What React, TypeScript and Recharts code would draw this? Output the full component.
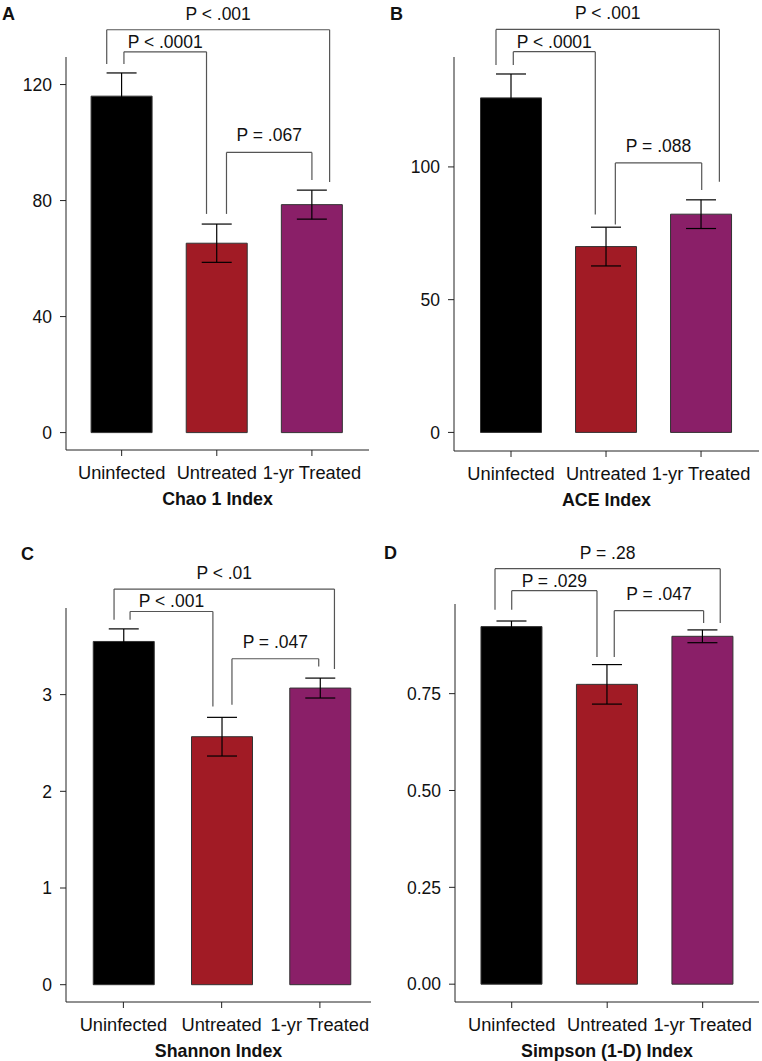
import React from 'react';
import { BarChart, Bar, XAxis, YAxis, ErrorBar, ReferenceLine, Cell } from 'recharts';

const FONT = '"Liberation Sans", Arial, Helvetica, sans-serif';

// groups and colours
const groups = ['Uninfected', 'Untreated', '1-yr Treated'];
const barColors = ['#000000', '#A11B25', '#8A1F68'];

// means and standard errors
const chaoMeans = [116, 65.3, 78.6];
const chaoErrors = [8, 6.6, 5];
const aceMeans = [126, 70, 82.2];
const aceErrors = [9, 7.3, 5.4];
const shannonMeans = [3.55, 2.565, 3.068];
const shannonErrors = [0.13, 0.2, 0.103];
const simpsonMeans = [0.923, 0.774, 0.898];
const simpsonErrors = [0.0145, 0.051, 0.0165];

// y ticks
const chaoTicks = [0, 40, 80, 120];
const aceTicks = [0, 50, 100];
const shannonTicks = [0, 1, 2, 3];
const simpsonTicks = [0, 0.25, 0.5, 0.75];

// significance brackets: [label, left x, right x, top, left leg end, right leg end]
type Bracket = [string, number, number, number, number, number];
const chaoBrackets: Bracket[] = [
  ['P < .001', -0.157, 2.186, 138.9, 127.1, 86.4],
  ['P < .0001', 0.024, 0.892, 131.3, 127.1, 75.4],
  ['P = .067', 1.102, 2.0, 96.6, 75.4, 87.1],
];
const aceBrackets: Bracket[] = [
  ['P < .001', -0.158, 2.193, 151.8, 138.4, 94.4],
  ['P < .0001', 0.024, 0.887, 143.4, 138.4, 82.1],
  ['P = .088', 1.098, 2.007, 101.5, 78.3, 91.3],
];
const shannonBrackets: Bracket[] = [
  ['P < .01', -0.095, 2.148, 4.092, 3.775, 3.265],
  ['P < .001', 0.068, 0.911, 3.86, 3.775, 2.878],
  ['P = .047', 1.105, 1.988, 3.371, 2.896, 3.292],
];
const simpsonBrackets: Bracket[] = [
  ['P = .28', -0.175, 2.184, 1.0725, 0.9667, 0.9324],
  ['P = .029', 0.0, 0.893, 1.0157, 0.9667, 0.8446],
  ['P = .047', 1.074, 2.01, 0.9641, 0.8446, 0.9324],
];
// distance between bracket and its label (px)
const labelGaps = [10, 4, 11];

const textStyle = { fill: '#111', fontSize: 17.5, fontFamily: FONT };

interface PanelProps {
  means: number[];
  errors: number[];
  yDomain: [number, number];
  yTicks: number[];
  tickFmt?: (v: number) => string;
  xDomain: [number, number];
  brackets: Bracket[];
  title: string;
  margin: { top: number; right: number; bottom: number; left: number };
  left: number;
  top: number;
  width: number;
  height: number;
}

const Panel = ({ means, errors, yDomain, yTicks, tickFmt, xDomain, brackets, title, margin, left, top, width, height }: PanelProps) => {
  const data = groups.map((g, i) => ({ x: i, name: g, value: means[i], err: errors[i] }));
  const lineProps = { stroke: '#555', strokeWidth: 1.2, ifOverflow: 'visible' as const };
  return (
    <div style={{ position: 'absolute', left, top }}>
      <BarChart width={width} height={height} data={data} margin={margin}>
        <XAxis
          type="number"
          dataKey="x"
          domain={xDomain}
          allowDataOverflow
          ticks={[0, 1, 2]}
          interval={0}
          tickFormatter={(v: number) => groups[v]}
          tickSize={6}
          tickMargin={10}
          height={30}
          stroke="#222"
          tick={{ ...textStyle, fontSize: 18.3 }}
          label={{ value: title, position: 'bottom', offset: 12, ...textStyle, fontSize: 17.8, fontWeight: 'bold' }}
        />
        <YAxis
          type="number"
          domain={yDomain}
          allowDataOverflow
          ticks={yTicks}
          interval={0}
          tickFormatter={tickFmt}
          width={60}
          tickSize={6}
          tickMargin={8}
          stroke="#222"
          tick={textStyle}
        />
        <Bar dataKey="value" barSize={61} stroke="#333" strokeWidth={1} isAnimationActive={false}>
          {data.map((d, i) => (
            <Cell key={d.name} fill={barColors[i]} />
          ))}
          <ErrorBar dataKey="err" width={15} stroke="#000" strokeWidth={1.2} direction="y" isAnimationActive={false} />
        </Bar>
        {brackets.flatMap(([label, x1, x2, yTop, yL, yR], i) => [
          <ReferenceLine key={`l${i}`} segment={[{ x: x1, y: yL }, { x: x1, y: yTop }]} {...lineProps} />,
          <ReferenceLine key={`r${i}`} segment={[{ x: x2, y: yR }, { x: x2, y: yTop }]} {...lineProps} />,
          <ReferenceLine
            key={`t${i}`}
            segment={[{ x: x1, y: yTop }, { x: x2, y: yTop }]}
            {...lineProps}
            label={{ value: label, position: 'top', offset: labelGaps[i], ...textStyle }}
          />,
        ])}
      </BarChart>
    </div>
  );
};

const letterStyle: React.CSSProperties = {
  position: 'absolute',
  fontFamily: FONT,
  fontWeight: 'bold',
  fontSize: 18,
  lineHeight: '18px',
  color: '#111',
};

export default function App() {
  return (
    <div style={{ position: 'absolute', left: 0, top: 0, width: 762, height: 1061, background: '#fff' }}>
      <Panel
        means={chaoMeans}
        errors={chaoErrors}
        yDomain={[-6, 129.5]}
        yTicks={chaoTicks}
        xDomain={[-0.585, 2.6]}
        brackets={chaoBrackets}
        title="Chao 1 Index"
        margin={{ top: 57, right: 12, bottom: 50, left: 6 }}
        left={0}
        top={0}
        width={381}
        height={530}
      />
      <Panel
        means={aceMeans}
        errors={aceErrors}
        yDomain={[-7, 141.4]}
        yTicks={aceTicks}
        xDomain={[-0.6, 2.61]}
        brackets={aceBrackets}
        title="ACE Index"
        margin={{ top: 57, right: 3, bottom: 49, left: 13 }}
        left={381}
        top={0}
        width={381}
        height={530}
      />
      <Panel
        means={shannonMeans}
        errors={shannonErrors}
        yDomain={[-0.179, 3.896]}
        yTicks={shannonTicks}
        xDomain={[-0.584, 2.52]}
        brackets={shannonBrackets}
        title="Shannon Index"
        margin={{ top: 78, right: 10, bottom: 29, left: 6 }}
        left={0}
        top={530}
        width={381}
        height={531}
      />
      <Panel
        means={simpsonMeans}
        errors={simpsonErrors}
        yDomain={[-0.046, 0.9814]}
        yTicks={simpsonTicks}
        tickFmt={(v: number) => v.toFixed(2)}
        xDomain={[-0.594, 2.59]}
        brackets={simpsonBrackets}
        title="Simpson (1-D) Index"
        margin={{ top: 74, right: 3, bottom: 29, left: 14 }}
        left={381}
        top={530}
        width={381}
        height={531}
      />
      <div style={{ ...letterStyle, left: 2, top: 5 }}>A</div>
      <div style={{ ...letterStyle, left: 390, top: 5 }}>B</div>
      <div style={{ ...letterStyle, left: 21, top: 545 }}>C</div>
      <div style={{ ...letterStyle, left: 384, top: 544 }}>D</div>
    </div>
  );
}
